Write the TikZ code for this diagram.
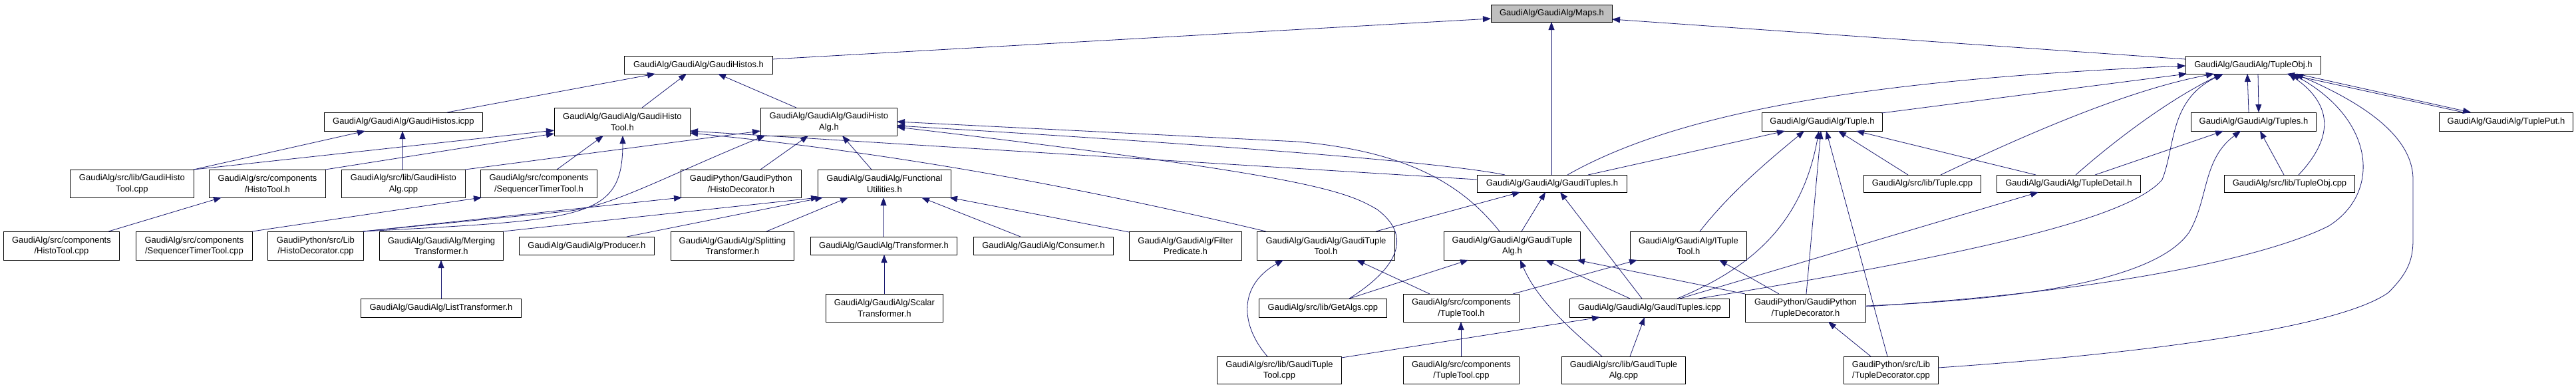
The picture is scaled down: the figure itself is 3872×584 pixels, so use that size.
\documentclass[tikz,border=0pt]{standalone}
\usepackage{fontspec}
\setmainfont{Liberation Sans}
\usetikzlibrary{arrows.meta}
\definecolor{edgecol}{RGB}{25,25,112}
\definecolor{mapsgray}{RGB}{191,191,191}
\begin{document}
\begin{tikzpicture}[x=1pt,y=-1pt,
  filebox/.style={draw=black, line width=0.9pt, fill=white, anchor=north west, inner sep=0pt, align=center, font=\fontsize{13}{16.5}\selectfont},
  conn/.style={draw=edgecol, line width=0.8pt, -{Triangle[length=12pt,width=9pt]}},
]
\useasboundingbox[fill=white] (0,0) rectangle (3872,584);

% Row A
\node[filebox,fill=mapsgray,minimum width=182,minimum height=26] (maps) at (2241,7) {GaudiAlg/GaudiAlg/Maps.h};
% Row B
\node[filebox,minimum width=223,minimum height=27] (histos) at (938,84) {GaudiAlg/GaudiAlg/GaudiHistos.h};
\node[filebox,minimum width=203,minimum height=27] (tupleobj) at (3285,84) {GaudiAlg/GaudiAlg/TupleObj.h};
% Row C
\node[filebox,minimum width=238,minimum height=28] (histosicpp) at (487,169) {GaudiAlg/GaudiAlg/GaudiHistos.icpp};
\node[filebox,minimum width=204,minimum height=42] (histotoolh) at (833,162) {GaudiAlg/GaudiAlg/GaudiHisto\\Tool.h};
\node[filebox,minimum width=205,minimum height=42] (histoalgh) at (1143,162) {GaudiAlg/GaudiAlg/GaudiHisto\\Alg.h};
\node[filebox,minimum width=181,minimum height=28] (tupleh) at (2648,169) {GaudiAlg/GaudiAlg/Tuple.h};
\node[filebox,minimum width=188,minimum height=28] (tuplesh) at (3293,169) {GaudiAlg/GaudiAlg/Tuples.h};
\node[filebox,minimum width=201,minimum height=28] (tupleput) at (3666,169) {GaudiAlg/GaudiAlg/TuplePut.h};
% Row D
\node[filebox,minimum width=186,minimum height=42] (histotoolcpp) at (105,255) {GaudiAlg/src/lib/GaudiHisto\\Tool.cpp};
\node[filebox,minimum width=175,minimum height=42] (histotoolcomp) at (314,255) {GaudiAlg/src/components\\/HistoTool.h};
\node[filebox,minimum width=186,minimum height=42] (histoalgcpp) at (513,255) {GaudiAlg/src/lib/GaudiHisto\\Alg.cpp};
\node[filebox,minimum width=175,minimum height=42] (seqtimerh) at (722,255) {GaudiAlg/src/components\\/SequencerTimerTool.h};
\node[filebox,minimum width=181,minimum height=42] (histodech) at (1023,255) {GaudiPython/GaudiPython\\/HistoDecorator.h};
\node[filebox,minimum width=200,minimum height=42] (funcutil) at (1229,255) {GaudiAlg/GaudiAlg/Functional\\Utilities.h};
\node[filebox,minimum width=225,minimum height=26] (gtuplesh) at (2220,263) {GaudiAlg/GaudiAlg/GaudiTuples.h};
\node[filebox,minimum width=176,minimum height=26] (tuplecpp) at (2801,263) {GaudiAlg/src/lib/Tuple.cpp};
\node[filebox,minimum width=216,minimum height=26] (tupledetail) at (3001,263) {GaudiAlg/GaudiAlg/TupleDetail.h};
\node[filebox,minimum width=196,minimum height=26] (tupleobjcpp) at (3343,263) {GaudiAlg/src/lib/TupleObj.cpp};
% Row E
\node[filebox,minimum width=174,minimum height=43] (histotoolcppc) at (5,348) {GaudiAlg/src/components\\/HistoTool.cpp};
\node[filebox,minimum width=175,minimum height=43] (seqtimercpp) at (204,348) {GaudiAlg/src/components\\/SequencerTimerTool.cpp};
\node[filebox,minimum width=144,minimum height=43] (histodeccpp) at (402,348) {GaudiPython/src/Lib\\/HistoDecorator.cpp};
\node[filebox,minimum width=186,minimum height=43] (merging) at (570,348) {GaudiAlg/GaudiAlg/Merging\\Transformer.h};
\node[filebox,minimum width=203,minimum height=27] (producer) at (780,356) {GaudiAlg/GaudiAlg/Producer.h};
\node[filebox,minimum width=185,minimum height=43] (splitting) at (1008,348) {GaudiAlg/GaudiAlg/Splitting\\Transformer.h};
\node[filebox,minimum width=220,minimum height=27] (transformer) at (1218,356) {GaudiAlg/GaudiAlg/Transformer.h};
\node[filebox,minimum width=210,minimum height=27] (consumer) at (1463,356) {GaudiAlg/GaudiAlg/Consumer.h};
\node[filebox,minimum width=169,minimum height=43] (filterpred) at (1697,348) {GaudiAlg/GaudiAlg/Filter\\Predicate.h};
\node[filebox,minimum width=207,minimum height=43] (gtupletoolh) at (1889,348) {GaudiAlg/GaudiAlg/GaudiTuple\\Tool.h};
\node[filebox,minimum width=205,minimum height=43] (gtuplealgh) at (2170,348) {GaudiAlg/GaudiAlg/GaudiTuple\\Alg.h};
\node[filebox,minimum width=175,minimum height=43] (ituptool) at (2450,348) {GaudiAlg/GaudiAlg/ITuple\\Tool.h};
% Row F
\node[filebox,minimum width=241,minimum height=28] (listtr) at (542,449) {GaudiAlg/GaudiAlg/ListTransformer.h};
\node[filebox,minimum width=176,minimum height=42] (scalartr) at (1241,442) {GaudiAlg/GaudiAlg/Scalar\\Transformer.h};
\node[filebox,minimum width=192,minimum height=28] (getalgs) at (1892,449) {GaudiAlg/src/lib/GetAlgs.cpp};
\node[filebox,minimum width=174,minimum height=42] (tupletoolh) at (2109,442) {GaudiAlg/src/components\\/TupleTool.h};
\node[filebox,minimum width=240,minimum height=28] (gtuplesicpp) at (2359,449) {GaudiAlg/GaudiAlg/GaudiTuples.icpp};
\node[filebox,minimum width=181,minimum height=42] (tupledech) at (2623,442) {GaudiPython/GaudiPython\\/TupleDecorator.h};
% Row G
\node[filebox,minimum width=187,minimum height=41] (gtupletoolcpp) at (1829,536) {GaudiAlg/src/lib/GaudiTuple\\Tool.cpp};
\node[filebox,minimum width=174,minimum height=41] (tupletoolcpp) at (2109,536) {GaudiAlg/src/components\\/TupleTool.cpp};
\node[filebox,minimum width=186,minimum height=41] (gtuplealgcpp) at (2347,536) {GaudiAlg/src/lib/GaudiTuple\\Alg.cpp};
\node[filebox,minimum width=142,minimum height=41] (tupledeccpp) at (2771,536) {GaudiPython/src/Lib\\/TupleDecorator.cpp};

% Connectors
\draw[conn] ([shift={(223,5)}]histos.north west) -- ([shift={(0,21)}]maps.north west);
\draw[conn] ([shift={(112,0)}]gtuplesh.north west) -- ([shift={(91,26)}]maps.north west);
\draw[conn] ([shift={(0,5)}]tupleobj.north west) -- ([shift={(182,22)}]maps.north west);
\draw[conn] ([shift={(185,0)}]histosicpp.north west) -- ([shift={(47,27)}]histos.north west);
\draw[conn] ([shift={(132,0)}]histotoolh.north west) -- ([shift={(94,27)}]histos.north west);
\draw[conn] ([shift={(54,0)}]histoalgh.north west) -- ([shift={(141,27)}]histos.north west);
\draw[conn] ([shift={(186,0)}]histotoolcpp.north west) -- ([shift={(62,28)}]histosicpp.north west);
\draw[conn] ([shift={(92,0)}]histoalgcpp.north west) -- ([shift={(118,28)}]histosicpp.north west);
\draw[conn] ([shift={(186,0)}]histotoolcpp.north west) -- ([shift={(0,34)}]histotoolh.north west);
\draw[conn] ([shift={(175,0)}]histotoolcomp.north west) -- ([shift={(0,39)}]histotoolh.north west);
\draw[conn] ([shift={(158,0)}]histotoolcppc.north west) -- ([shift={(19,42)}]histotoolcomp.north west);
\draw[conn] ([shift={(115,0)}]seqtimerh.north west) -- ([shift={(74,42)}]histotoolh.north west);
\draw[conn] ([shift={(175,0)}]seqtimercpp.north west) -- ([shift={(2,42)}]seqtimerh.north west);
\draw[conn] ([shift={(144,0)}]histodeccpp.north west) .. controls (880,330) and (936,330) .. ([shift={(103,42)}]histotoolh.north west);
\draw[conn] ([shift={(144,0)}]histodeccpp.north west) -- (850,318) .. controls (920,311) and (1000,265) .. ([shift={(7,42)}]histoalgh.north west);
\draw[conn] ([shift={(144,0)}]histodeccpp.north west) -- ([shift={(2,42)}]histodech.north west);
\draw[conn] ([shift={(186,0)}]histoalgcpp.north west) -- ([shift={(0,35)}]histoalgh.north west);
\draw[conn] ([shift={(120,0)}]histodech.north west) -- ([shift={(72,42)}]histoalgh.north west);
\draw[conn] ([shift={(81,0)}]funcutil.north west) -- ([shift={(123,42)}]histoalgh.north west);
\draw[conn] ([shift={(186,0)}]merging.north west) -- ([shift={(2,42)}]funcutil.north west);
\draw[conn] ([shift={(162,0)}]producer.north west) -- ([shift={(8,42)}]funcutil.north west);
\draw[conn] ([shift={(144,0)}]splitting.north west) -- ([shift={(46,42)}]funcutil.north west);
\draw[conn] ([shift={(110,0)}]transformer.north west) -- ([shift={(99,42)}]funcutil.north west);
\draw[conn] ([shift={(71,0)}]consumer.north west) -- ([shift={(156,42)}]funcutil.north west);
\draw[conn] ([shift={(0,1)}]filterpred.north west) -- ([shift={(198,42)}]funcutil.north west);
\draw[conn] ([shift={(121,0)}]listtr.north west) -- ([shift={(93,43)}]merging.north west);
\draw[conn] ([shift={(88,0)}]scalartr.north west) -- ([shift={(111,27)}]transformer.north west);
\draw[conn] ([shift={(42,0)}]gtuplesh.north west) .. controls (2150,240) and (1700,210) .. ([shift={(205,27)}]histoalgh.north west);
\draw[conn] ([shift={(84,0)}]gtuplealgh.north west) .. controls (2200,280) and (2120,228) .. (1950,213) -- ([shift={(205,21)}]histoalgh.north west);
\draw[conn] ([shift={(136,0)}]getalgs.north west) .. controls (2090,410) and (2130,360) .. (2070,315) .. controls (2020,285) and (1950,262) .. ([shift={(205,29)}]histoalgh.north west);
\draw[conn] ([shift={(0,7)}]gtuplesh.north west) -- ([shift={(204,35)}]histotoolh.north west);
\draw[conn] ([shift={(14,0)}]gtupletoolh.north west) .. controls (1700,300) and (1400,235) .. ([shift={(204,38)}]histotoolh.north west);
\draw[conn] ([shift={(179,0)}]gtupletoolh.north west) -- ([shift={(65,26)}]gtuplesh.north west);
\draw[conn] ([shift={(117,0)}]gtuplealgh.north west) -- ([shift={(103,26)}]gtuplesh.north west);
\draw[conn] ([shift={(109,0)}]gtuplesicpp.north west) -- ([shift={(125,26)}]gtuplesh.north west);
\draw[conn] ([shift={(136,0)}]getalgs.north west) -- ([shift={(37,43)}]gtuplealgh.north west);
\draw[conn] ([shift={(40,0)}]tupletoolh.north west) -- ([shift={(150,43)}]gtupletoolh.north west);
\draw[conn] ([shift={(165,0)}]tupletoolh.north west) -- ([shift={(11,43)}]ituptool.north west);
\draw[conn] ([shift={(87,0)}]tupletoolcpp.north west) -- ([shift={(87,42)}]tupletoolh.north west);
\draw[conn] ([shift={(61,0)}]gtuplealgcpp.north west) .. controls (2360,495) and (2310,450) .. ([shift={(115,43)}]gtuplealgh.north west);
\draw[conn] ([shift={(103,0)}]gtuplealgcpp.north west) -- ([shift={(113,28)}]gtuplesicpp.north west);
\draw[conn] ([shift={(187,2)}]gtupletoolcpp.north west) -- ([shift={(46,28)}]gtuplesicpp.north west);
\draw[conn] ([shift={(76,0)}]gtupletoolcpp.north west) .. controls (1865,490) and (1860,430) .. ([shift={(40,43)}]gtupletoolh.north west);
\draw[conn] ([shift={(91,0)}]gtuplesicpp.north west) -- ([shift={(153,43)}]gtuplealgh.north west);
\draw[conn] ([shift={(0,0)}]tupledech.north west) -- ([shift={(200,43)}]gtuplealgh.north west);
\draw[conn] ([shift={(51,0)}]tupledech.north west) -- ([shift={(134,43)}]ituptool.north west);
\draw[conn] ([shift={(105,0)}]ituptool.north west) .. controls (2600,290) and (2660,240) .. ([shift={(64,28)}]tupleh.north west);
\draw[conn] ([shift={(162,0)}]gtuplesicpp.north west) .. controls (2640,400) and (2710,330) .. ([shift={(86,28)}]tupleh.north west);
\draw[conn] ([shift={(92,0)}]tupledech.north west) -- ([shift={(89,28)}]tupleh.north west);
\draw[conn] ([shift={(66,0)}]tupledeccpp.north west) -- ([shift={(97,28)}]tupleh.north west);
\draw[conn] ([shift={(41,0)}]tupledeccpp.north west) -- ([shift={(125,42)}]tupledech.north west);
\draw[conn] ([shift={(67,0)}]tuplecpp.north west) -- ([shift={(115,28)}]tupleh.north west);
\draw[conn] ([shift={(59,0)}]tupledetail.north west) -- ([shift={(142,28)}]tupleh.north west);
\draw[conn] ([shift={(167,0)}]gtuplesh.north west) -- ([shift={(35,28)}]tupleh.north west);
\draw[conn] ([shift={(136,0)}]gtuplesh.north west) .. controls (2520,170) and (2800,120) .. ([shift={(0,15)}]tupleobj.north west);
\draw[conn] ([shift={(180,1)}]tupleh.north west) -- ([shift={(2,27)}]tupleobj.north west);
\draw[conn] ([shift={(116,0)}]tuplecpp.north west) .. controls (3050,200) and (3200,135) .. ([shift={(43,27)}]tupleobj.north west);
\draw[conn] ([shift={(119,0)}]tupledetail.north west) .. controls (3180,210) and (3260,150) .. ([shift={(55,27)}]tupleobj.north west);
\draw[conn] ([shift={(166,0)}]gtuplesicpp.north west) -- ([shift={(63,26)}]tupledetail.north west);
\draw[conn] ([shift={(194,0)}]gtuplesicpp.north west) .. controls (2950,385) and (3200,330) .. (3250,270) .. controls (3270,220) and (3260,150) .. ([shift={(57,27)}]tupleobj.north west);
\draw[conn] ([shift={(181,18)}]tupledech.north west) .. controls (3050,450) and (3240,420) .. (3290,350) .. controls (3320,300) and (3310,240) .. ([shift={(75,28)}]tuplesh.north west);
\draw[conn] ([shift={(181,19)}]tupledech.north west) .. controls (3150,440) and (3400,390) .. (3500,340) .. controls (3580,290) and (3570,180) .. ([shift={(160,27)}]tupleobj.north west);
\draw[conn] ([shift={(142,17)}]tupledeccpp.north west) .. controls (3250,530) and (3520,490) .. (3590,440) .. controls (3620,410) and (3627,390) .. (3627,360) -- (3627,270) .. controls (3627,200) and (3540,150) .. ([shift={(165,27)}]tupleobj.north west);
\draw[conn] ([shift={(112,0)}]tupleobjcpp.north west) .. controls (3505,210) and (3510,160) .. ([shift={(155,27)}]tupleobj.north west);
\draw[conn] ([shift={(90,0)}]tupleobjcpp.north west) -- ([shift={(104,28)}]tuplesh.north west);
\draw[conn] ([shift={(148,0)}]tupledetail.north west) -- ([shift={(49,28)}]tuplesh.north west);
\draw[conn] ([shift={(87,0)}]tuplesh.north west) -- ([shift={(93,27)}]tupleobj.north west);
\draw[conn] ([shift={(109,27)}]tupleobj.north west) -- ([shift={(102,0)}]tuplesh.north west);
\draw[conn] ([shift={(37,0)}]tupleput.north west) -- ([shift={(152,27)}]tupleobj.north west);
\draw[conn] ([shift={(167,27)}]tupleobj.north west) -- ([shift={(48,0)}]tupleput.north west);
\end{tikzpicture}
\end{document}
